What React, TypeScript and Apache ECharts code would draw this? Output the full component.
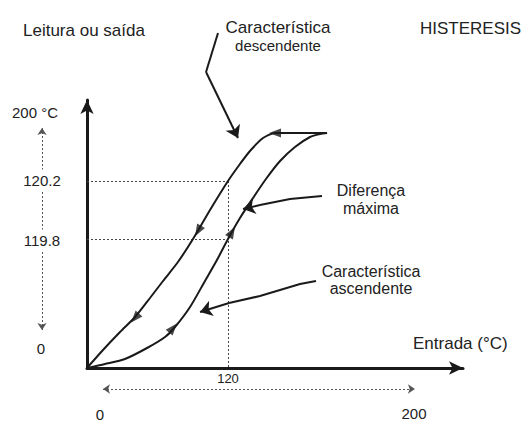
import React, { useEffect, useRef } from "react";
import * as echarts from "echarts";

// Schematic diagram units: x = input (°C, 0..320), y = output (schematic units 0..268)
const descendingCurve: number[][] = [
  [204.3, 235], [181.3, 235], [160, 235], [149.8, 230], [138.7, 217], [130.2, 204],
  [120, 187], [104.7, 158], [90.2, 129], [77.4, 106], [64.7, 87], [53.6, 70],
  [40.9, 51], [28.1, 36], [13.6, 18], [0, 0],
];
const ascendingCurve: number[][] = [
  [0, 0], [15.3, 4], [32.3, 9], [51.1, 20], [66.4, 31], [74.9, 41], [87.7, 61],
  [100.4, 87], [110.6, 108], [120, 129], [130.2, 150], [141.3, 170], [152.3, 189],
  [164.3, 207], [177, 221], [189.8, 231], [198.3, 234], [204.3, 235],
];
// arrowheads on the curves: [x, y, rotation]
const curveArrows: number[][] = [
  [160, 235, 90],
  [94.5, 137, 150],
  [40.9, 50, 139],
  [123.4, 136, -30],
  [73.2, 40, -40],
];
// guide lines
const guideLevels = { high: 187, low: 129, input: 120 };
const leaderDiferenca: number[][] = [[200, 172], [172.8, 169], [147.2, 163], [132.8, 159]];
const leaderAscendente: number[][] = [[194.9, 87], [181.3, 84], [147.2, 72], [120.9, 65], [96.2, 56]];
const leaderDescendente: number[][] = [[111.5, 335], [101.3, 296], [128.5, 230]];
const rangeOutput: number[][] = [[-38.3, 240], [-38.3, 38]];
const rangeInput: number[][] = [[13.6, -21], [279.1, -21]];

const xTicks = [120];

export default function App() {
  const ref = useRef<HTMLDivElement>(null);
  useEffect(() => {
    if (!ref.current) return;
    const chart = echarts.init(ref.current, null, { renderer: "svg" });
    const font = "Liberation Sans, Arial, sans-serif";
    const txt = (x: number, y: number, text: string, size: number, align = "left", bg = false) => ({
      type: "text",
      x,
      y,
      z: 10,
      style: {
        text,
        fontSize: size,
        fontFamily: font,
        fill: "#222",
        align,
        verticalAlign: "middle",
        ...(bg ? { backgroundColor: "#fff", padding: [3, 1] } : {}),
      },
    });
    const dark = "#1a1a1a";
    const leaders = [leaderDiferenca, leaderAscendente, leaderDescendente];
    chart.setOption({
      animation: false,
      backgroundColor: "#fff",
      grid: { left: 87, top: 100, width: 376, height: 268, containLabel: false },
      xAxis: {
        type: "value",
        min: 0,
        max: 320,
        interval: 120,
        axisLine: { show: true, lineStyle: { color: dark, width: 3 }, symbol: ["none", "arrow"], symbolSize: [10, 14] },
        axisTick: { show: false },
        splitLine: { show: false },
        axisLabel: {
          formatter: (v: number) => (xTicks.includes(v) ? String(v) : ""),
          fontSize: 13,
          color: "#222",
          fontFamily: font,
          margin: 4,
        },
      },
      yAxis: {
        type: "value",
        min: 0,
        max: 268,
        axisLine: { show: true, lineStyle: { color: dark, width: 3 }, symbol: ["none", "arrow"], symbolSize: [10, 14] },
        axisTick: { show: false },
        splitLine: { show: false },
        axisLabel: { show: false },
      },
      series: [
        {
          type: "lines",
          coordinateSystem: "cartesian2d",
          clip: false,
          silent: true,
          symbol: "none",
          lineStyle: { color: "#444", width: 1, type: [2, 2], opacity: 1 },
          data: [
            { coords: [[0, guideLevels.high], [guideLevels.input, guideLevels.high]] },
            { coords: [[0, guideLevels.low], [guideLevels.input, guideLevels.low]] },
            { coords: [[guideLevels.input, guideLevels.high], [guideLevels.input, 0]] },
          ],
        },
        {
          type: "lines",
          coordinateSystem: "cartesian2d",
          clip: false,
          silent: true,
          symbol: ["arrow", "arrow"],
          symbolSize: 7,
          lineStyle: { color: "#555", width: 1, type: [2, 2], opacity: 1 },
          data: [{ coords: rangeOutput }, { coords: rangeInput }],
        },
        {
          type: "line",
          data: descendingCurve,
          showSymbol: false,
          smooth: 0.25,
          lineStyle: { color: dark, width: 2 },
          z: 3,
        },
        {
          type: "line",
          data: ascendingCurve,
          showSymbol: false,
          smooth: 0.25,
          lineStyle: { color: dark, width: 2 },
          z: 3,
        },
        {
          type: "scatter",
          symbol: "triangle",
          symbolSize: [9, 12],
          itemStyle: { color: dark },
          data: curveArrows.map((a) => ({ value: [a[0], a[1]], symbolRotate: a[2] })),
          z: 4,
        },
        {
          type: "lines",
          coordinateSystem: "cartesian2d",
          clip: false,
          silent: true,
          polyline: true,
          symbol: "none",
          lineStyle: { color: dark, width: 2, opacity: 1 },
          data: leaders.map((l) => ({ coords: l.slice(0, -1) })),
          z: 4,
        },
        {
          type: "lines",
          coordinateSystem: "cartesian2d",
          clip: false,
          silent: true,
          symbol: ["none", "arrow"],
          symbolSize: [10, 12],
          lineStyle: { color: dark, width: 2, opacity: 1, curveness: 0 },
          data: leaders.map((l) => ({ coords: l.slice(-2) })),
          z: 4,
        },
      ],
      graphic: [
        txt(23, 30, "Leitura ou saída", 17),
        txt(278, 27, "Característica", 17, "center"),
        txt(278, 45, "descendente", 15, "center"),
        txt(420, 28, "HISTERESIS", 17),
        txt(12, 112, "200 °C", 15),
        txt(42, 180, "120.2", 15, "center", true),
        txt(42, 240, "119.8", 15, "center", true),
        txt(41, 348, "0", 15, "center"),
        txt(413, 343, "Entrada (°C)", 17),
        txt(371, 190, "Diferença", 16, "center"),
        txt(371, 208, "máxima", 16, "center"),
        txt(371, 271, "Característica", 16, "center"),
        txt(371, 288, "ascendente", 16, "center"),
        txt(100, 414, "0", 15, "center"),
        txt(414, 413, "200", 15, "center"),
      ],
    });
    return () => chart.dispose();
  }, []);
  return <div ref={ref} style={{ width: 527, height: 423, position: "absolute", left: 0, top: 0 }} />;
}
